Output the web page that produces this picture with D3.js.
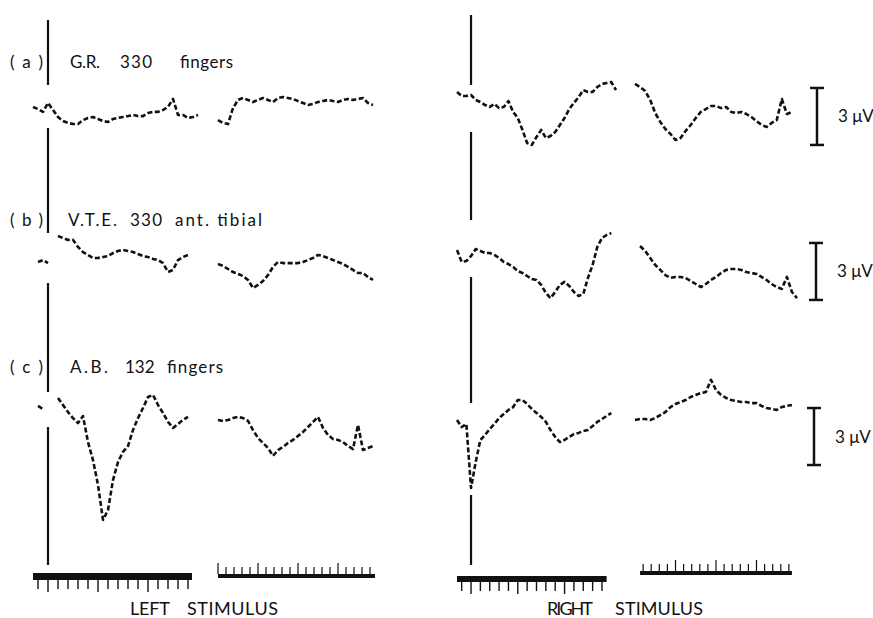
<!DOCTYPE html>
<html>
<head>
<meta charset="utf-8">
<script src="https://cdn.jsdelivr.net/npm/d3@7"></script>
<style>
  body { margin: 0; background: #fff; }
  svg { display: block; }
  text { font-family: Lato, "Open Sans", sans-serif; fill: #111; }
</style>
</head>
<body>
<div id="chart"></div>
<script>
// sample times (ms after stimulus) for the fast and the slow sweep
const fastTimes = [-15, -10, -5, 0, 5, 10, 15, 20, 25, 30, 35, 40, 45, 50, 55, 60, 65, 70,
  75, 80, 85, 90, 95, 100, 105, 110, 115, 120, 125, 130, 135, 140, 145, 150, 155];
const slowTimes = [0, 5, 10, 15, 20, 25, 30, 35, 40, 45, 50, 55, 60, 65, 70, 75, 80, 85,
  90, 95, 100, 105, 110, 115, 120, 125, 130, 135, 140, 145, 150, 155, 160];

// time marker ticks (ms)
const fastTicks = [-10, 0, 10, 20, 30, 40, 50, 60, 70, 80, 90, 100, 110, 120, 130, 140];
const slowTicks = [0, 8, 16, 24, 32, 40, 48, 56, 64, 72, 80, 88, 96, 104, 112, 120, 128, 136, 144, 152];

// labels
const rowLabels = ["(a)", "(b)", "(c)"];
const subjects = [["G.R.", "330", "fingers"], ["V.T.E.", "330", "ant. tibial"], ["A.B.", "132", "fingers"]];
const sideLabels = [["LEFT", "STIMULUS"], ["RIGHT", "STIMULUS"]];
const calValue = 3; // μV
const calLabel = "3 μV";

// averaged responses, μV (null = no trace)
const aLeftFast = [0.16, 0.05, -0.1, 0.37, 0, -0.37, -0.58, -0.68, -0.74, -0.74, -0.53, -0.42, -0.37,
  -0.47, -0.58, -0.63, -0.47, -0.42, -0.37, -0.32, -0.26, -0.32, -0.32, -0.16, -0.1, -0.1, 0, 0.16,
  0.58, -0.26, -0.26, -0.42, -0.37, -0.26, null];
const aLeftSlow = [-0.53, -0.68, -0.74, 0.1, 0.53, 0.63, 0.53, 0.42, 0.53, 0.63, 0.53, 0.42, 0.63,
  0.68, 0.63, 0.58, 0.47, 0.37, 0.26, 0.32, 0.42, 0.47, 0.53, 0.47, 0.42, 0.53, 0.58, 0.53, 0.58,
  0.63, 0.37, 0.26, null];
const aRightFast = [0.95, 0.74, 0.74, 0.79, 0.53, 0.42, 0.26, 0.16, 0.32, 0.1, 0.16, 0.47, -0.1,
  -0.42, -1.05, -1.74, -1.84, -1.42, -1.05, -1.47, -1.37, -1.16, -0.79, -0.42, 0.05, 0.37, 0.68,
  1.05, 0.95, 0.95, 1.21, 1.37, 1.42, 1.47, 1.05];
const aRightSlow = [1.37, 1.21, 1.0, 0.53, -0.16, -0.63, -1.0, -1.26, -1.58, -1.47, -1.1, -0.79,
  -0.42, -0.1, 0.05, 0.21, 0.21, 0.1, 0.16, -0.1, -0.16, -0.1, -0.21, -0.37, -0.58, -0.79, -0.89,
  -0.68, -0.53, 0.58, -0.21, -0.1, null];

const bLeftFast = [null, 0.16, 0.26, 0.1, null, 1.53, 1.42, 1.32, 1.32, 0.95, 0.68, 0.53, 0.37,
  0.37, 0.42, 0.47, 0.63, 0.74, 0.79, 0.74, 0.68, 0.58, 0.47, 0.42, 0.32, 0.26, 0.1, -0.37, -0.26,
  0.26, 0.42, 0.53, null, null, null];
const bLeftSlow = [0.05, -0.05, -0.21, -0.37, -0.47, -0.58, -0.79, -1.21, -1.05, -0.84, -0.53,
  -0.1, 0.16, 0.1, 0.1, 0.1, 0.1, 0.16, 0.26, 0.37, 0.53, 0.47, 0.37, 0.26, 0.16, 0.05, -0.1, -0.26,
  -0.42, -0.42, -0.63, -0.79, null];
const bRightFast = [0.79, 0.16, 0.21, 0.47, 0.84, 0.74, 0.63, 0.63, 0.53, 0.37, 0.16, 0.05, -0.1,
  -0.32, -0.42, -0.58, -0.74, -0.79, -1.05, -1.47, -1.74, -1.42, -1.05, -0.89, -1.1, -1.42, -1.63,
  -1.53, -0.68, 0, 0.95, 1.42, 1.58, 1.68, null];
const bRightSlow = [null, 1.0, 0.74, 0.37, 0, -0.26, -0.53, -0.68, -0.63, -0.63, -0.68, -0.84,
  -1.0, -1.16, -1.0, -0.79, -0.63, -0.42, -0.26, -0.21, -0.21, -0.26, -0.37, -0.42, -0.47, -0.63,
  -0.79, -1.0, -1.16, -1.26, -0.63, -1.42, -1.74];

const cLeftFast = [null, 0.74, 0.58, null, null, 1.16, 0.79, 0.42, 0.1, -0.16, 0.21, -1.16, -2.11,
  -3.42, -5.26, -4.74, -3.16, -2.21, -1.68, -1.37, -0.53, 0.1, 0.63, 1.21, 1.32, 0.79, 0.37, -0.1,
  -0.42, -0.21, 0, 0.16, null, null, null];
const cLeftSlow = [0, -0.05, 0, 0.1, 0.16, 0.1, -0.05, -0.53, -0.95, -1.21, -1.47, -1.89, -1.58,
  -1.42, -1.21, -1.05, -0.84, -0.63, -0.37, -0.1, 0.16, -0.42, -0.79, -1.0, -1.05, -1.16, -1.37,
  -1.53, -0.26, -1.58, -1.47, -1.37, null];
const cRightFast = [0, -0.37, -0.21, -3.58, -2.21, -1.05, -0.79, -0.47, -0.21, 0.1, 0.32, 0.53,
  0.68, 1.05, 1.05, 0.84, 0.58, 0.37, 0.16, -0.1, -0.53, -0.89, -1.16, -1.05, -0.89, -0.74, -0.68,
  -0.58, -0.53, -0.32, -0.1, 0.05, 0.21, 0.37, null];
const cRightSlow = [0, 0.05, 0.05, 0, 0.1, 0.26, 0.42, 0.68, 0.84, 0.95, 1.05, 1.21, 1.32, 1.42,
  1.47, 2.11, 1.58, 1.32, 1.16, 1.05, 1.0, 0.95, 0.95, 0.89, 0.89, 0.74, 0.63, 0.58, 0.53, 0.68,
  0.74, 0.79, null];

// layout only
const W = 873, H = 618;
const layout = {
  rowBase: [110, 265, 420],
  pxPerUV: 19,
  fastRange: { left: [33, 203], right: [457, 616] },
  slowRange: { left: [218, 378], right: [635, 797] },
  fastBar: { left: { y: 573, h: 7, t: [-15, 144] }, right: { y: 576, h: 6, t: [-15, 145] } },
  slowBar: { left: { y: 574, h: 4, t: [0, 157] }, right: { y: 571, h: 4, t: [5, 155] } },
  stimGaps: {
    left: [[20, 85], [128, 233], [283, 392], [427, 565]],
    right: [[15, 85], [132, 220], [277, 403], [495, 565]]
  },
  calX: [817, 816, 814],
  calBottom: [-1.84, -1.84, -2.37],
  labelY: [68, 226, 373],
  subjectX: [[70, 120, 180], [68, 130, 175], [70, 125, 167]],
  subjectW: [[30, 32, 53], [49, 32, 87], [38, null, 56]]
};

const svg = d3.select("#chart").append("svg")
  .attr("width", W)
  .attr("height", H);

const xFast = {
  left: d3.scaleLinear().domain([-15, 155]).range(layout.fastRange.left),
  right: d3.scaleLinear().domain([-15, 155]).range(layout.fastRange.right)
};
const xSlow = {
  left: d3.scaleLinear().domain([0, 160]).range(layout.slowRange.left),
  right: d3.scaleLinear().domain([0, 160]).range(layout.slowRange.right)
};
const yRow = layout.rowBase.map(b =>
  d3.scaleLinear().domain([-1, 1]).range([b + layout.pxPerUV, b - layout.pxPerUV]));

const traces = [
  { row: 0, side: "left", fast: aLeftFast, slow: aLeftSlow },
  { row: 0, side: "right", fast: aRightFast, slow: aRightSlow },
  { row: 1, side: "left", fast: bLeftFast, slow: bLeftSlow },
  { row: 1, side: "right", fast: bRightFast, slow: bRightSlow },
  { row: 2, side: "left", fast: cLeftFast, slow: cLeftSlow },
  { row: 2, side: "right", fast: cRightFast, slow: cRightSlow }
];

// stimulus marker lines
["left", "right"].forEach(side => {
  svg.append("g").selectAll("line")
    .data(layout.stimGaps[side])
    .join("line")
    .attr("x1", xFast[side](0)).attr("x2", xFast[side](0))
    .attr("y1", d => d[0]).attr("y2", d => d[1])
    .attr("stroke", "#111")
    .attr("stroke-width", 2.2);
});

// traces
const traceG = svg.append("g");
traces.forEach(tr => {
  const y = yRow[tr.row];
  [[fastTimes, tr.fast, xFast[tr.side]], [slowTimes, tr.slow, xSlow[tr.side]]].forEach(([ts, vs, x]) => {
    const pts = ts.map((t, i) => ({ t: t, v: vs[i] }));
    const line = d3.line()
      .defined(d => d.v != null)
      .x(d => x(d.t))
      .y(d => y(d.v));
    traceG.append("path")
      .attr("d", line(pts))
      .attr("fill", "none")
      .attr("stroke", "#111")
      .attr("stroke-width", 2.6)
      .attr("stroke-dasharray", "5 2.5")
      .attr("stroke-linejoin", "round");
  });
});

// row labels
rowLabels.forEach((lab, i) => {
  svg.append("text")
    .attr("x", 10).attr("y", layout.labelY[i])
    .attr("font-size", 17)
    .attr("textLength", 33).attr("lengthAdjust", "spacing")
    .text(lab);
  subjects[i].forEach((s, j) => {
    const t = svg.append("text")
      .attr("x", layout.subjectX[i][j]).attr("y", layout.labelY[i])
      .attr("font-size", 17)
      .text(s);
    if (layout.subjectW[i][j]) {
      t.attr("textLength", layout.subjectW[i][j]).attr("lengthAdjust", "spacing");
    }
  });
});

// 3 μV calibration bars
yRow.forEach((y, i) => {
  const g = svg.append("g");
  const x = layout.calX[i];
  const y0 = y(layout.calBottom[i]), y1 = y(layout.calBottom[i] + calValue);
  g.append("line").attr("x1", x).attr("x2", x).attr("y1", y0).attr("y2", y1);
  g.append("line").attr("x1", x - 7).attr("x2", x + 7).attr("y1", y0).attr("y2", y0);
  g.append("line").attr("x1", x - 7).attr("x2", x + 7).attr("y1", y1).attr("y2", y1);
  g.selectAll("line").attr("stroke", "#111").attr("stroke-width", 2.5);
  g.append("text")
    .attr("x", x + 21).attr("y", (y0 + y1) / 2 + 6)
    .attr("font-size", 17)
    .text(calLabel);
});

// time markers
["left", "right"].forEach((side, si) => {
  const fb = layout.fastBar[side];
  const xf = xFast[side];
  svg.append("rect")
    .attr("x", xf(fb.t[0])).attr("y", fb.y)
    .attr("width", xf(fb.t[1]) - xf(fb.t[0])).attr("height", fb.h)
    .attr("fill", "#111");
  svg.append("g").selectAll("line")
    .data(fastTicks.filter(t => t <= fb.t[1]))
    .join("line")
    .attr("x1", d => xf(d)).attr("x2", d => xf(d))
    .attr("y1", fb.y + fb.h).attr("y2", d => fb.y + fb.h + (d % 50 === 0 ? 12 : 9))
    .attr("stroke", "#111").attr("stroke-width", 1.4);

  const sb = layout.slowBar[side];
  const xs = xSlow[side];
  svg.append("rect")
    .attr("x", xs(sb.t[0])).attr("y", sb.y)
    .attr("width", xs(sb.t[1]) - xs(sb.t[0])).attr("height", sb.h)
    .attr("fill", "#111");
  svg.append("g").selectAll("line")
    .data(slowTicks.filter(t => t >= sb.t[0] && t <= sb.t[1]))
    .join("line")
    .attr("x1", d => xs(d)).attr("x2", d => xs(d))
    .attr("y1", sb.y).attr("y2", d => sb.y - (d % 40 === 0 ? 11 : 7))
    .attr("stroke", "#111").attr("stroke-width", 1.2);

  // LEFT / RIGHT STIMULUS
  const pos = si === 0 ? [[130, 40], [187, 91]] : [[547, 46], [615, 88]];
  sideLabels[si].forEach((w, j) => {
    svg.append("text")
      .attr("x", pos[j][0]).attr("y", 615)
      .attr("font-size", 18)
      .attr("textLength", pos[j][1]).attr("lengthAdjust", "spacing")
      .text(w);
  });
});
</script>
</body>
</html>
